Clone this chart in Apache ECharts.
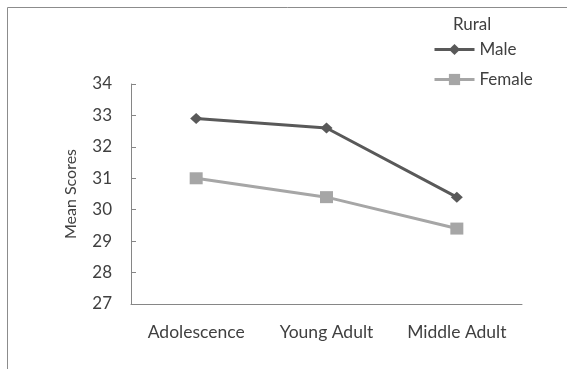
<!DOCTYPE html>
<html>
<head>
<meta charset="utf-8">
<script src="https://cdn.jsdelivr.net/npm/echarts@6/dist/echarts.min.js"></script>
<style>
  html, body { margin: 0; padding: 0; background: #fff; }
  #chart { width: 567px; height: 369px; }
</style>
</head>
<body>
<div id="chart"></div>
<script>
const categories = ['Adolescence', 'Young Adult', 'Middle Adult'];
const maleScores = [32.9, 32.6, 30.4];
const femaleScores = [31.0, 30.4, 29.4];
const legendTitle = 'Rural';
const yName = 'Mean Scores';

const textColor = '#404040';
const axisColor = '#868686';
const font = 'Lato, "Open Sans", sans-serif';

const chart = echarts.init(document.getElementById('chart'));
chart.setOption({
  animation: false,
  textStyle: { fontFamily: font, color: textColor },
  graphic: [{
    type: 'rect',
    shape: { x: 7.5, y: 7.5, width: 700, height: 500 },
    style: { fill: 'none', stroke: '#8c8c8c', lineWidth: 1 },
    silent: true
  }],
  title: {
    text: legendTitle,
    left: 453,
    top: 16,
    padding: 0,
    textStyle: { fontFamily: font, fontSize: 17, fontWeight: 'normal', color: textColor }
  },
  legend: {
    orient: 'vertical',
    left: 428,
    top: 36,
    itemWidth: 40,
    itemHeight: 14,
    itemGap: 13,
    lineStyle: { width: 3 },
    textStyle: { fontFamily: font, fontSize: 17, color: textColor },
    data: ['Male', 'Female']
  },
  grid: { left: 131, right: 45, top: 84, bottom: 65 },
  xAxis: {
    type: 'category',
    data: categories,
    boundaryGap: true,
    axisLine: { lineStyle: { color: axisColor, width: 1 } },
    axisTick: { inside: true, length: 5, lineStyle: { color: axisColor } },
    axisLabel: { fontFamily: font, fontSize: 17.5, color: textColor, margin: 19 },
    splitLine: { show: false }
  },
  yAxis: {
    type: 'value',
    min: 27,
    max: 34,
    interval: 1,
    name: yName,
    nameLocation: 'middle',
    nameRotate: 90,
    nameGap: 52,
    nameTextStyle: { fontFamily: font, fontSize: 16, color: textColor },
    axisLine: { show: true, lineStyle: { color: axisColor, width: 1 } },
    axisTick: { show: true, inside: true, length: 5, lineStyle: { color: axisColor } },
    axisLabel: { fontFamily: font, fontSize: 17, color: textColor, margin: 19 },
    splitLine: { show: false }
  },
  series: [
    {
      name: 'Male',
      type: 'line',
      data: maleScores,
      symbol: 'diamond',
      symbolSize: [12, 11],
      lineStyle: { color: '#595959', width: 3 },
      itemStyle: { color: '#595959' }
    },
    {
      name: 'Female',
      type: 'line',
      data: femaleScores,
      symbol: 'rect',
      symbolSize: [13, 12],
      lineStyle: { color: '#a6a6a6', width: 3 },
      itemStyle: { color: '#a6a6a6' }
    }
  ]
});
</script>
</body>
</html>
